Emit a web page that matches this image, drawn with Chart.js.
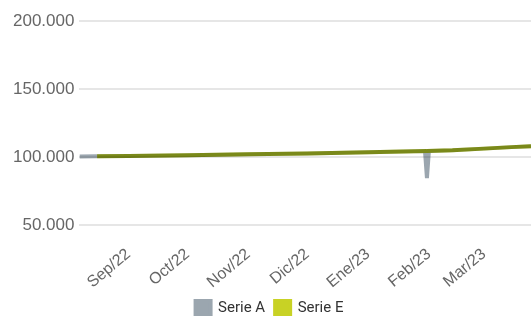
<!DOCTYPE html>
<html>
<head>
<meta charset="utf-8">
<script src="https://cdn.jsdelivr.net/npm/chart.js@4"></script>
<style>
  html, body { margin: 0; padding: 0; background: #fff; }
  #wrap { width: 531px; height: 316px; }
</style>
</head>
<body>
<div id="wrap"><canvas id="chart"></canvas></div>
<script>
// days counted from 1 Sep 2022
const monthDays = [0, 30, 61, 91, 122, 153, 181];
const monthLabels = ['Sep/22', 'Oct/22', 'Nov/22', 'Dic/22', 'Ene/23', 'Feb/23', 'Mar/23'];

const daysA = [-25, -16, 0, 30, 61, 91, 122, 151, 152, 153, 165, 181, 195, 205];
const valuesA = [100400, 100600, 100800, 101300, 102000, 102700, 103500, 104400, 84500, 104500, 105000, 106200, 107300, 108000];

const daysE = [-16, 0, 30, 61, 91, 122, 152, 165, 181, 195, 205];
const valuesE = [100600, 100800, 101300, 102000, 102700, 103500, 104450, 105000, 106200, 107300, 108000];

const yTicks = [50000, 100000, 150000, 200000];

// lines overlap with a multiply blend (gray x yellow = olive)
const multiply = {
  id: 'multiply',
  beforeDatasetsDraw(chart) {
    chart.ctx.save();
    chart.ctx.globalCompositeOperation = 'multiply';
  },
  afterDatasetsDraw(chart) {
    chart.ctx.restore();
  }
};

const ctx = document.getElementById('chart').getContext('2d');
new Chart(ctx, {
  type: 'line',
  data: {
    datasets: [{
      label: 'Serie A',
      data: daysA.map((d, i) => ({ x: d, y: valuesA[i] })),
      borderColor: '#9ba6af',
      backgroundColor: '#9ba6af',
      borderWidth: 4,
      pointRadius: 0,
      tension: 0
    }, {
      label: 'Serie E',
      data: daysE.map((d, i) => ({ x: d, y: valuesE[i] })),
      borderColor: '#c8d225',
      backgroundColor: '#c8d225',
      borderWidth: 4,
      pointRadius: 0,
      tension: 0
    }]
  },
  options: {
    responsive: true,
    maintainAspectRatio: false,
    animation: false,
    layout: { padding: { top: 21, right: 0, left: 8, bottom: -10 } },
    scales: {
      x: {
        type: 'linear',
        min: -25,
        max: 205,
        afterBuildTicks: axis => { axis.ticks = monthDays.map(v => ({ value: v })); },
        afterFit: axis => { axis.height -= 7; },
        grid: { display: false, drawTicks: false },
        border: { display: false },
        ticks: {
          autoSkip: false,
          minRotation: 40,
          maxRotation: 40,
          padding: 6,
          color: '#666',
          font: { family: 'Liberation Sans', size: 16 },
          callback: (value, index) => monthLabels[index]
        }
      },
      y: {
        min: 40000,
        max: 200000,
        afterBuildTicks: axis => { axis.ticks = yTicks.map(v => ({ value: v })); },
        grid: { color: '#e6e6e6', lineWidth: 2, drawTicks: false },
        border: { display: false },
        ticks: {
          padding: 5,
          color: '#666',
          font: { family: 'Liberation Sans', size: 17 },
          callback: value => value.toLocaleString('de-DE')
        }
      }
    },
    plugins: {
      legend: {
        position: 'bottom',
        labels: {
          boxWidth: 15,
          boxHeight: 15,
          padding: 10,
          color: '#333',
          font: { family: 'Roboto', size: 15 }
        }
      },
      tooltip: { enabled: false }
    }
  },
  plugins: [multiply]
});
</script>
</body>
</html>
